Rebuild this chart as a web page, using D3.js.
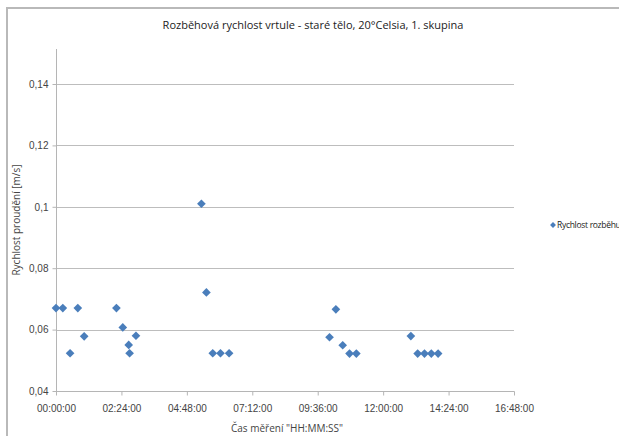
<!DOCTYPE html>
<html>
<head>
<meta charset="utf-8">
<script src="https://cdn.jsdelivr.net/npm/d3@7/dist/d3.min.js"></script>
<style>
  body { margin: 0; background: #fff; }
  svg { display: block; font-family: "Liberation Sans Narrow", "Open Sans", sans-serif; }
</style>
</head>
<body>
<div id="vis"></div>
<script>
// measurement times (HH:MM) and start-up speeds [m/s]
const times = [
    "00:00", "00:15", "00:31", "00:48", "01:02",
    "02:13", "02:27", "02:40", "02:42", "02:56",
    "05:20", "05:31", "05:45", "06:02", "06:21",
    "10:02", "10:16", "10:31", "10:46", "11:01",
    "13:01", "13:16", "13:31", "13:46", "14:01"
];
const speeds = [
    0.067, 0.067, 0.0523, 0.067, 0.0578,
    0.067, 0.0607, 0.055, 0.0523, 0.058,
    0.101, 0.0721, 0.0523, 0.0523, 0.0523,
    0.0575, 0.0666, 0.0549, 0.0522, 0.0522,
    0.0579, 0.0522, 0.0522, 0.0522, 0.0522
];
const yTicks = [0.04, 0.06, 0.08, 0.1, 0.12, 0.14];
const xTickLabels = ["00:00:00", "02:24:00", "04:48:00", "07:12:00", "09:36:00", "12:00:00", "14:24:00", "16:48:00"];

const title = "Rozběhová rychlost vrtule - staré tělo, 20°Celsia, 1. skupina";
const yTitle = "Rychlost proudění [m/s]";
const xTitle = "Čas měření \"HH:MM:SS\"";
const seriesName = "Rychlost rozběhu";

const width = 619, height = 436;
const plot = { left: 56, right: 514, top: 49, bottom: 391 };

const toSec = s => {
    const [h, m, sec] = s.split(":").map(Number);
    return h * 3600 + m * 60 + (sec || 0);
};

const data = times.map((t, i) => ({ t: toSec(t), v: speeds[i] }));

const x = d3.scaleLinear()
    .domain([0, toSec("16:48:00")])
    .range([plot.left, plot.right]);

// 0.04 .. 0.14 spans y 391 .. 84, axis line runs a bit higher
const y = d3.scaleLinear()
    .domain([0.04, 0.14])
    .range([plot.bottom, 84]);

const svg = d3.select("#vis").append("svg")
    .attr("width", width)
    .attr("height", height);

// chart border
svg.append("path")
    .attr("d", `M7,${height + 2}V8H${width + 2}`)
    .attr("fill", "none")
    .attr("stroke", "#b9b9b9")
    .attr("stroke-width", 2);

svg.append("text")
    .attr("x", 313)
    .attr("y", 29)
    .attr("text-anchor", "middle")
    .attr("font-size", 11)
    .attr("fill", "#222")
    .text(title);

// gridlines
svg.append("g")
    .selectAll("line")
    .data(yTicks.slice(1))
    .join("line")
    .attr("x1", plot.left)
    .attr("x2", plot.right)
    .attr("y1", d => Math.round(y(d)) + 0.5)
    .attr("y2", d => Math.round(y(d)) + 0.5)
    .attr("stroke", "#bdbdbd");

// y axis
const fmt = d => String(+d.toFixed(2)).replace(".", ",");
const yAxis = svg.append("g")
    .attr("transform", `translate(${plot.left + 0.5},0)`)
    .call(d3.axisLeft(y).tickValues(yTicks).tickSize(4).tickPadding(4).tickFormat(fmt));
yAxis.select(".domain").attr("d", `M0,${plot.top}V${plot.bottom + 0.5}`);

// x axis
const xAxis = svg.append("g")
    .attr("transform", `translate(0,${plot.bottom + 0.5})`)
    .call(d3.axisBottom(x)
        .tickValues(xTickLabels.map(toSec))
        .tickSize(4)
        .tickPadding(9)
        .tickFormat((d, i) => xTickLabels[i]));
xAxis.select(".domain").attr("d", `M${plot.left},0H${plot.right + 0.5}`);

svg.selectAll(".domain, .tick line").attr("stroke", "#b5b5b5");
svg.selectAll(".tick text")
    .attr("fill", "#444")
    .attr("font-size", 10)
    .attr("font-family", null);

svg.append("text")
    .attr("transform", `translate(20,220) rotate(-90)`)
    .attr("text-anchor", "middle")
    .attr("font-size", 10)
    .attr("fill", "#444")
    .text(yTitle);

svg.append("text")
    .attr("x", 287)
    .attr("y", 432)
    .attr("text-anchor", "middle")
    .attr("font-size", 10)
    .attr("fill", "#444")
    .text(xTitle);

// markers
const diamond = d3.symbol().type(d3.symbolDiamond2).size(48);
svg.append("g")
    .selectAll("path")
    .data(data)
    .join("path")
    .attr("d", diamond)
    .attr("transform", d => `translate(${x(d.t)},${y(d.v)})`)
    .attr("fill", "#4a7ebb");

// legend
const legend = svg.append("g").attr("transform", "translate(553,225)");
legend.append("path")
    .attr("d", d3.symbol().type(d3.symbolDiamond2).size(22))
    .attr("fill", "#4a7ebb");
legend.append("text")
    .attr("x", 4)
    .attr("dy", "0.35em")
    .attr("font-size", 8.5)
    .attr("letter-spacing", -0.3)
    .attr("fill", "#222")
    .text(seriesName);
</script>
</body>
</html>
